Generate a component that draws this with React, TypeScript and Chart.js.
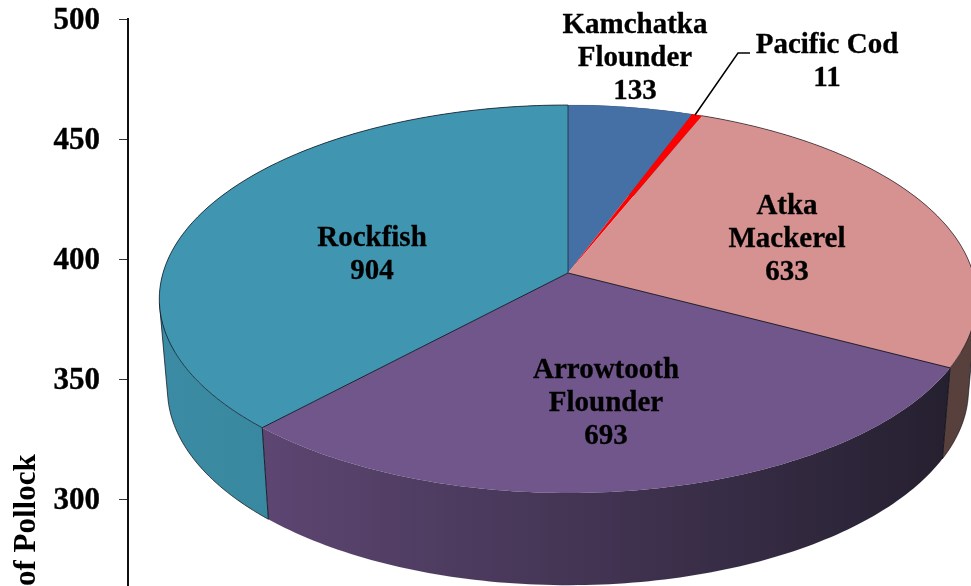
import React, { useEffect, useRef } from "react";
import { Chart, registerables } from "chart.js";

Chart.register(...registerables);

const categories = ["Kamchatka\nFlounder", "Pacific Cod", "Atka\nMackerel", "Arrowtooth\nFlounder", "Rockfish"];
const values = [133, 11, 633, 693, 904];
const topColors = ["#4570a5", "#ff0000", "#d69290", "#71568c", "#4095b0"];
const wallFrom = ["#3a5d88", "#c00000", "#5f4440", "#5d4672", "#3a8ba3"];
const wallTo = ["#3a5d88", "#c00000", "#57403c", "#252030", "#37809a"];
const rimAlpha = [0.1, 0, 0.6, 0.05, 0.7];
const spokeAlpha = [0.6, 0, 0, 0.85, 0.85];
const axisTicks = [300, 350, 400, 450, 500];
const axisTitle = "of Pollock";

// Pie drawing geometry (perspective view of the disc)
const GEO = { cx: 568, cy: 273, a: 405, b: 190.5, k: 0.134, depth: 90, shrinkX: 0.98, shrinkY: 1.01 };
const LABEL_AT = [
  { x: 635, y: 26 },
  { x: 827, y: 46 },
  { x: 787, y: 207 },
  { x: 606, y: 371 },
  { x: 372, y: 239 },
];
const FONT = '"Liberation Serif", serif';

type Pt = { x: number; y: number };

function proj(angle: number, bottom: boolean): Pt {
  const u = Math.cos(angle);
  const v = Math.sin(angle);
  const w = 1 / (1 - GEO.k * v);
  return {
    x: GEO.cx + GEO.a * u * w * (bottom ? GEO.shrinkX : 1),
    y: GEO.cy + (bottom ? GEO.depth : 0) + GEO.b * v * w * (bottom ? GEO.shrinkY : 1),
  };
}

function arcAngles(s: number, e: number) {
  const STEP = Math.PI / 180;
  const out: number[] = [];
  for (let a = s; a < e; a += STEP) out.push(a);
  out.push(e);
  return out;
}

function strokeLine(ctx: any, pts: Pt[], alpha: number) {
  if (alpha <= 0 || !pts.length) return;
  ctx.beginPath();
  pts.forEach((p, j) => (j ? ctx.lineTo(p.x, p.y) : ctx.moveTo(p.x, p.y)));
  ctx.strokeStyle = `rgba(10,10,20,${alpha})`;
  ctx.lineWidth = 1;
  ctx.stroke();
}

// Outer edge of a wall: the lower rim where it faces the viewer, and a tangent up to the top rim at the sides.
function wallOutline(angles: number[]) {
  const seen = angles.filter((a) => Math.sin(a) > 0.17);
  if (!seen.length) return [];
  const pts = seen.map((a) => proj(a, true));
  if (seen[0] > angles[0]) pts.unshift(proj(seen[0] - 0.02, false));
  if (seen[seen.length - 1] < angles[angles.length - 1]) pts.push(proj(seen[seen.length - 1] + 0.02, false));
  return pts;
}

const pie3d = {
  id: "pie3d",
  beforeDatasetsDraw(chart: any) {
    const ctx = chart.ctx;
    const arcs = chart.getDatasetMeta(0).data;
    const center = { x: GEO.cx, y: GEO.cy };
    ctx.save();
    ctx.lineJoin = "round";
    // walls, as one path of strips so the silhouette between both rims is filled without seams
    arcs.forEach((arc: any, i: number) => {
      const { startAngle: s, endAngle: e } = arc.getProps(["startAngle", "endAngle"]);
      const angles = arcAngles(s, e);
      const top = angles.map((a) => proj(a, false));
      const low = angles.map((a) => proj(a, true));
      const xs = top.concat(low).map((p) => p.x);
      const g = ctx.createLinearGradient(Math.min(...xs), 0, Math.max(...xs), 0);
      g.addColorStop(0, wallFrom[i]);
      g.addColorStop(1, wallTo[i]);
      ctx.beginPath();
      for (let j = 0; j + 1 < angles.length; j++) {
        const q = [top[j], top[j + 1], low[j + 1], low[j]];
        let area = 0;
        q.forEach((p, n) => {
          const r = q[(n + 1) % 4];
          area += p.x * r.y - r.x * p.y;
        });
        if (area < 0) q.reverse();
        q.forEach((p, n) => (n ? ctx.lineTo(p.x, p.y) : ctx.moveTo(p.x, p.y)));
        ctx.closePath();
      }
      ctx.fillStyle = g;
      ctx.fill();
      strokeLine(ctx, wallOutline(angles), rimAlpha[i]);
      strokeLine(ctx, [top[0], low[0]], 0.85);
    });
    // tops
    arcs.forEach((arc: any, i: number) => {
      const { startAngle: s, endAngle: e } = arc.getProps(["startAngle", "endAngle"]);
      ctx.beginPath();
      ctx.moveTo(center.x, center.y);
      arcAngles(s, e).forEach((a) => {
        const p = proj(a, false);
        ctx.lineTo(p.x, p.y);
      });
      ctx.closePath();
      ctx.fillStyle = chart.data.datasets[0].backgroundColor[i];
      ctx.fill();
    });
    arcs.forEach((arc: any, i: number) => {
      const { startAngle: s, endAngle: e } = arc.getProps(["startAngle", "endAngle"]);
      strokeLine(ctx, arcAngles(s, e).map((a) => proj(a, false)), rimAlpha[i]);
      strokeLine(ctx, [center, proj(s, false)], spokeAlpha[i]);
    });
    ctx.restore();
    return false;
  },
  afterDraw(chart: any) {
    const ctx = chart.ctx;
    ctx.save();
    ctx.strokeStyle = "#000";
    ctx.lineWidth = 1.5;
    ctx.beginPath();
    ctx.moveTo(695, 115);
    ctx.lineTo(738, 53);
    ctx.lineTo(750, 53);
    ctx.stroke();
    ctx.fillStyle = "#000";
    ctx.lineWidth = 0.3;
    ctx.font = `bold 29px ${FONT}`;
    ctx.textAlign = "center";
    ctx.textBaseline = "middle";
    categories.forEach((c, i) => {
      const lines = [...c.split("\n"), String(values[i])];
      lines.forEach((t, j) => {
        ctx.fillText(t, LABEL_AT[i].x, LABEL_AT[i].y + j * 33);
        ctx.strokeText(t, LABEL_AT[i].x, LABEL_AT[i].y + j * 33);
      });
    });
    ctx.restore();
  },
};

export default function App() {
  const ref = useRef<HTMLCanvasElement>(null);
  useEffect(() => {
    const chart = new Chart(ref.current!, {
      type: "pie",
      data: {
        labels: categories.map((c) => c.replace("\n", " ")),
        datasets: [{ data: values, backgroundColor: topColors }],
      },
      options: {
        animation: false,
        responsive: false,
        layout: { padding: { top: 19, left: 0, right: 0, bottom: 0 } },
        plugins: { legend: { display: false }, tooltip: { enabled: false } },
        scales: {
          y: {
            type: "linear",
            position: "left",
            min: 263.75,
            max: 500,
            afterBuildTicks: (s: any) => {
              s.ticks = axisTicks.map((value) => ({ value }));
            },
            afterFit: (s: any) => {
              s.width = 128;
              s.paddingTop = 0;
              s.paddingBottom = 0;
              if (!s._labelShift) {
                s._labelShift = true;
                const base = s._computeLabelItems;
                s._computeLabelItems = function (area: any) {
                  return base.call(this, area).map((item: any) => ({
                    ...item,
                    options: {
                      ...item.options,
                      translation: [item.options.translation[0], item.options.translation[1] + 2],
                    },
                  }));
                };
              }
            },
            ticks: {
              color: "#000",
              padding: 19,
              textStrokeColor: "#000",
              textStrokeWidth: 0.4,
              font: { family: FONT, size: 31, weight: "bold" },
            },
            grid: { drawOnChartArea: false, drawTicks: true, tickLength: 9, color: "#333", lineWidth: 1 },
            border: { color: "#111", width: 2 },
            title: {
              display: true,
              text: axisTitle,
              align: "start",
              color: "#000",
              padding: { top: 8, bottom: 0 },
              font: { family: FONT, size: 31, weight: "bold" },
            },
          },
        },
      } as any,
      plugins: [pie3d],
    });
    return () => chart.destroy();
  }, []);
  return (
    <div style={{ position: "fixed", left: 0, top: 0, width: 971, height: 586, overflow: "hidden", background: "#fff" }}>
      <canvas ref={ref} width={971} height={586} style={{ display: "block" }} />
    </div>
  );
}
